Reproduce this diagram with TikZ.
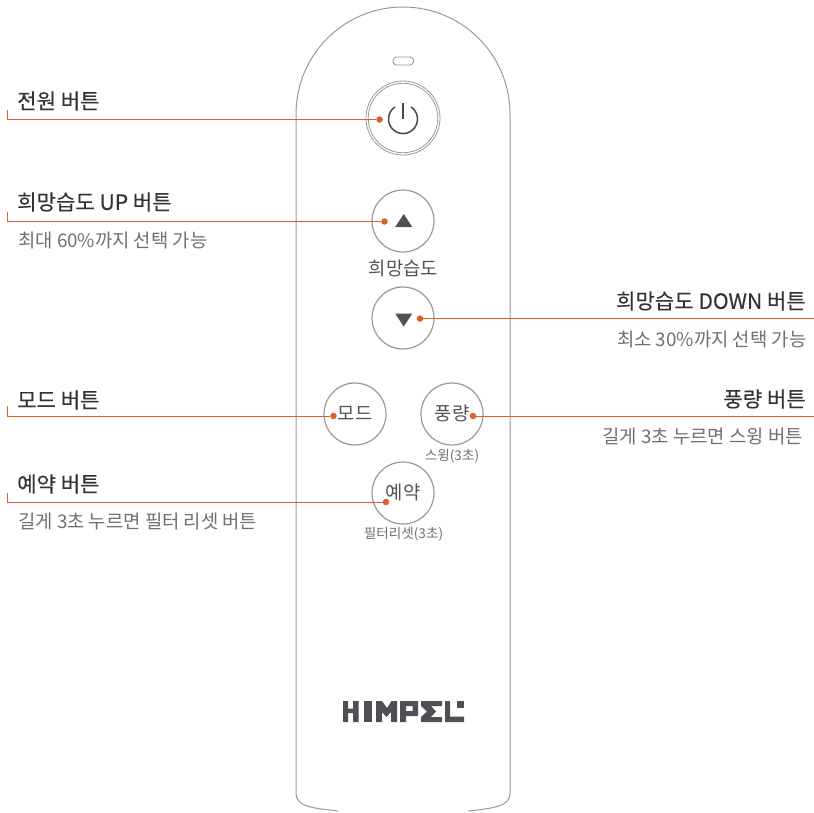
\documentclass[tikz,border=0pt]{standalone}
\usepackage{fontspec}
\setmainfont{Noto Sans CJK KR}
\newfontfamily\medk[FakeBold=0.25]{Noto Sans CJK KR}
\definecolor{accent}{HTML}{E05F28}
\definecolor{rim}{HTML}{999999}
\definecolor{ink}{HTML}{333333}
\definecolor{soft}{HTML}{707070}
\definecolor{logo}{HTML}{4F5054}
\newcommand{\fs}[1]{\fontsize{#1}{#1}\selectfont}
\tikzset{
  btn/.style={circle,draw=rim,line width=1.2pt,minimum size=#1,inner sep=0pt},
  title/.style={inner sep=0pt,text=ink,font=\medk\fs{21.1}},
  sub/.style={inner sep=0pt,text=soft,font=\fs{18.8}},
  btxt/.style={inner sep=0pt,text=ink!85!white,font=\fs{18.8}},
  small/.style={inner sep=0pt,text=soft,font=\fs{13.6}},
  dot/.style={circle,fill=accent,minimum size=6.5pt,inner sep=0pt},
  lead/.style={draw=accent,line width=0.9pt},
  logopart/.style={fill=logo,draw=none},
}
\begin{document}
\begin{tikzpicture}[x=1pt,y=-1pt]
\useasboundingbox (0,0) rectangle (814,812);
% body
\draw[draw=rim,line width=1pt] (296,114) arc[start angle=180,end angle=0,x radius=107,y radius=-107]
  -- (510,793) .. controls (510,806) and (496,808) .. (468,811)
  (338,811) .. controls (310,808) and (296,806) .. (296,793) -- (296,114);
\draw[draw=rim,line width=0.9pt,rounded corners=3.5pt] (393,57) rectangle (413.5,65);
% power
\node[btn=74pt,line width=0.8pt] (power) at (403,118) {};
\node[btn=69.5pt,line width=0.8pt] (powerin) at (403,118) {};
\draw[draw=ink!90!white,line width=1.5pt] (411.1,107) arc[start angle=-56,end angle=236,radius=14.5];
\draw[draw=ink!90!white,line width=1.1pt] (403,103) -- (403,119);
% humidity
\node[btn=62pt] (up) at (403,221) {};
\fill[logo] (403.7,214) -- (412.3,227) -- (395.2,227) -- cycle;
\node[btxt] (humlabel) at (403.5,268) {희망습도};
\node[btn=62pt] (down) at (403,318) {};
\fill[logo] (403.7,326.5) -- (412.3,313.5) -- (395.2,313.5) -- cycle;
% others
\node[btn=62pt] (mode) at (355,414) {};
\node[btxt] at (355,413) {모드};
\node[btn=62pt] (wind) at (452,414) {};
\node[btxt] at (452,413) {풍량};
\node[small] (swing) at (452,456) {스윙(3초)};
\node[btn=62pt] (timer) at (403,493) {};
\node[btxt] at (403,492) {예약};
\node[small] (filter) at (403.5,534) {필터리셋(3초)};
% logo
\fill[logopart] (343,701) rectangle (348,722) (353,701) rectangle (358.5,722) (348,708.5) rectangle (353,713);
\fill[logopart] (364,701) rectangle (372,722);
\fill[logopart] (376,701) -- (382,701) -- (387,708) -- (391.5,701) -- (397,701) -- (397,722) -- (391,722) -- (391,712) -- (386.5,717) -- (382,712) -- (382,722) -- (376,722) -- cycle;
\fill[logopart,even odd rule] (400,701) -- (418,701) -- (418,716) -- (406,716) -- (406,722) -- (400,722) -- cycle (406,706) rectangle (412.5,711);
\fill[logopart] (421,701) -- (442,701) -- (442,706) -- (431,706) -- (436,711.5) -- (431,717) -- (442,717) -- (442,722) -- (421,722) -- (421,717) -- (427,711.5) -- (421,706) -- cycle;
\fill[logopart] (445,701) rectangle (450,722) (445,716.5) rectangle (464,722);
\fill[logopart] (457,701) rectangle (464,708);
% dots
\node[dot] (dpower) at (379.5,119.5) {};
\node[dot] (dup) at (384.5,221.5) {};
\node[dot] (ddown) at (420,318.6) {};
\node[dot] (dmode) at (333.5,416) {};
\node[dot] (dwind) at (473,416) {};
\node[dot] (dtimer) at (386,502) {};
% leaders
\coordinate (apower) at (7,110); \coordinate (bpower) at (7,119.5);
\coordinate (aup) at (7,212); \coordinate (bup) at (7,221.5);
\coordinate (amode) at (7,406); \coordinate (bmode) at (7,416);
\coordinate (atimer) at (7,493); \coordinate (btimer) at (7,502);
\coordinate (edown) at (814,318.6); \coordinate (ewind) at (814,416);
\draw[lead] (apower) -- (bpower) -- (dpower);
\draw[lead] (aup) -- (bup) -- (dup);
\draw[lead] (amode) -- (bmode) -- (dmode);
\draw[lead] (atimer) -- (btimer) -- (dtimer);
\draw[lead] (ddown) -- (edown);
\draw[lead] (dwind) -- (ewind);
% labels
\node[title,anchor=west] (t1) at (17,101) {전원 버튼};
\node[title,anchor=west] (t2) at (17,202) {희망습도 UP 버튼};
\node[sub,anchor=west] (s2) at (18,240) {최대 60\%까지 선택 가능};
\node[title,anchor=east] (t3) at (806,301) {희망습도 DOWN 버튼};
\node[sub,anchor=east] (s3) at (806.5,339) {최소 30\%까지 선택 가능};
\node[title,anchor=west] (t4) at (17,400) {모드 버튼};
\node[title,anchor=east] (t5) at (806,399) {풍량 버튼};
\node[sub,anchor=east] (s5) at (803,436) {길게 3초 누르면 스윙 버튼};
\node[title,anchor=west] (t6) at (17,484) {예약 버튼};
\node[sub,anchor=west] (s6) at (18,521) {길게 3초 누르면 필터 리셋 버튼};
\end{tikzpicture}
\end{document}
